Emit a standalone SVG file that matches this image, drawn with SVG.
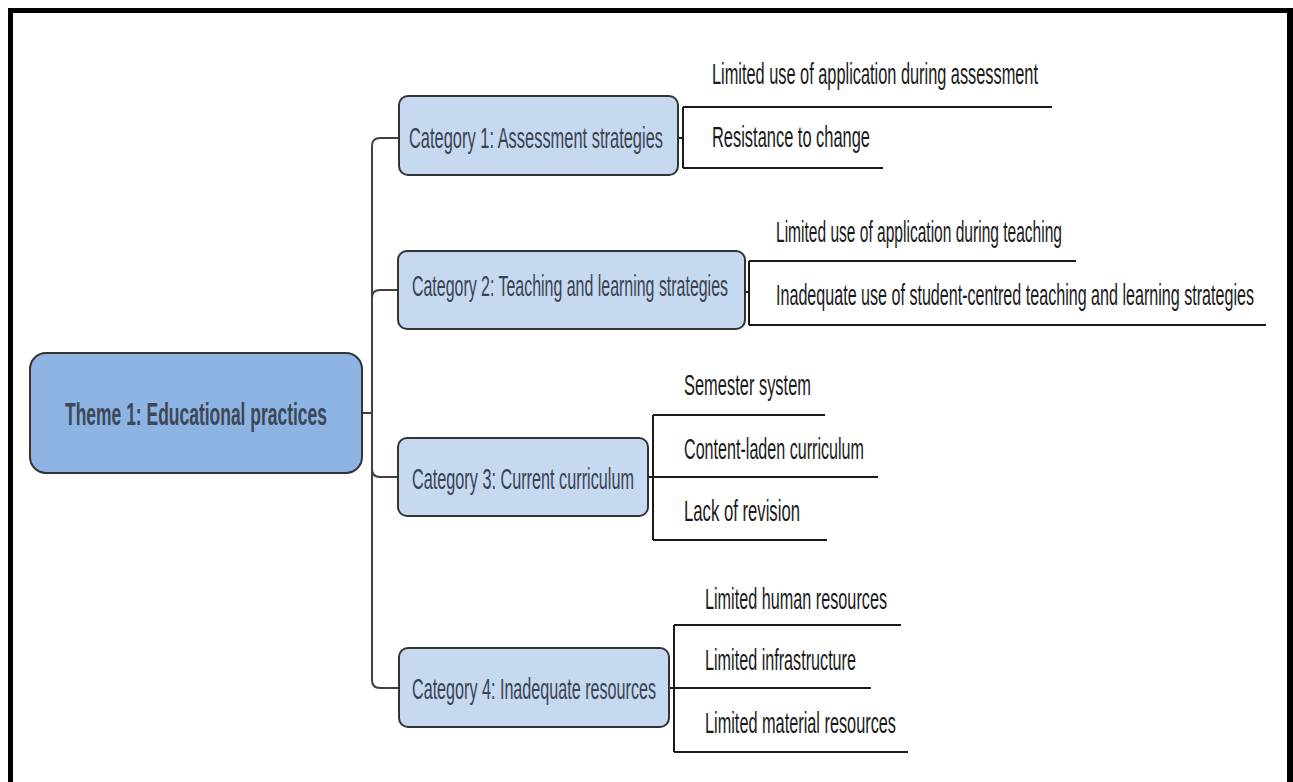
<svg xmlns="http://www.w3.org/2000/svg" width="1293" height="782" viewBox="0 0 1293 782">
<style>
.theme{fill:#8db4e2;stroke:#333;stroke-width:2}
.cat{fill:#c6d9f1;stroke:#333;stroke-width:2}
.tt{font-family:"Liberation Sans",Arial,sans-serif;font-weight:bold;font-size:32px;fill:#3c4757}
.ct{font-family:"Liberation Sans",Arial,sans-serif;font-size:29px;fill:#3a4252}
.lt{font-family:"Liberation Sans",Arial,sans-serif;font-size:30px;fill:#1a1a1a}
.conn{fill:none;stroke:#404040;stroke-width:2}
.leaf{fill:none;stroke:#1a1a1a;stroke-width:2}
</style>
<rect width="1293" height="782" fill="#fff"/>
<g id="frame" fill="#000">
<rect x="8" y="8" width="5" height="774"/>
<rect x="8" y="8" width="1285" height="5"/>
<rect x="1287" y="8" width="6" height="774"/>
</g>
<g id="connectors">
<path class="conn" d="M362,413 H372"/>
<path class="conn" d="M372,413 V146 Q372,138 380,138 H399"/>
<path class="conn" d="M372,413 V298 Q372,290 380,290 H398"/>
<path class="conn" d="M372,413 V469 Q372,477 380,477 H398"/>
<path class="conn" d="M372,413 V680 Q372,688 380,688 H399"/>
<path class="leaf" d="M678,138 H683 M683,107 V168 M683,107 H1052 M683,168 H883"/>
<path class="leaf" d="M745,292 H749 M749,261 V325 M749,261 H1076 M749,325 H1266"/>
<path class="leaf" d="M648,477 H653 M653,415 V540 M653,415 H825 M653,477 H878 M653,540 H827"/>
<path class="leaf" d="M669,688 H674 M674,625 V752 M674,625 H901 M674,688 H871 M674,752 H908"/>
</g>
<g id="theme">
<rect class="theme" x="30" y="353" width="332" height="120" rx="16"/>
<text class="tt" x="65" y="425" textLength="262" lengthAdjust="spacingAndGlyphs">Theme 1: Educational practices</text>
</g>
<g id="cat1">
<rect class="cat" x="399" y="96" width="279" height="79" rx="9"/>
<text class="ct" x="409" y="148" textLength="254" lengthAdjust="spacingAndGlyphs">Category 1: Assessment strategies</text>
</g>
<g id="cat2">
<rect class="cat" x="398" y="251" width="347" height="78" rx="9"/>
<text class="ct" x="412" y="296" textLength="316" lengthAdjust="spacingAndGlyphs">Category 2: Teaching and learning strategies</text>
</g>
<g id="cat3">
<rect class="cat" x="398" y="438" width="250" height="78" rx="9"/>
<text class="ct" x="412" y="489" textLength="222" lengthAdjust="spacingAndGlyphs">Category 3: Current curriculum</text>
</g>
<g id="cat4">
<rect class="cat" x="399" y="648" width="270" height="79" rx="9"/>
<text class="ct" x="412" y="699" textLength="244" lengthAdjust="spacingAndGlyphs">Category 4: Inadequate resources</text>
</g>
<g id="leaf1a"><text class="lt" x="712" y="84" textLength="326" lengthAdjust="spacingAndGlyphs">Limited use of application during assessment</text></g>
<g id="leaf1b"><text class="lt" x="712" y="147" textLength="158" lengthAdjust="spacingAndGlyphs">Resistance to change</text></g>
<g id="leaf2a"><text class="lt" x="776" y="242" textLength="286" lengthAdjust="spacingAndGlyphs">Limited use of application during teaching</text></g>
<g id="leaf2b"><text class="lt" x="776" y="305" textLength="478" lengthAdjust="spacingAndGlyphs">Inadequate use of student-centred teaching and learning strategies</text></g>
<g id="leaf3a"><text class="lt" x="684" y="395" textLength="127" lengthAdjust="spacingAndGlyphs">Semester system</text></g>
<g id="leaf3b"><text class="lt" x="684" y="459" textLength="180" lengthAdjust="spacingAndGlyphs">Content-laden curriculum</text></g>
<g id="leaf3c"><text class="lt" x="684" y="521" textLength="116" lengthAdjust="spacingAndGlyphs">Lack of revision</text></g>
<g id="leaf4a"><text class="lt" x="705" y="609" textLength="182" lengthAdjust="spacingAndGlyphs">Limited human resources</text></g>
<g id="leaf4b"><text class="lt" x="705" y="670" textLength="151" lengthAdjust="spacingAndGlyphs">Limited infrastructure</text></g>
<g id="leaf4c"><text class="lt" x="705" y="733" textLength="191" lengthAdjust="spacingAndGlyphs">Limited material resources</text></g>
</svg>
